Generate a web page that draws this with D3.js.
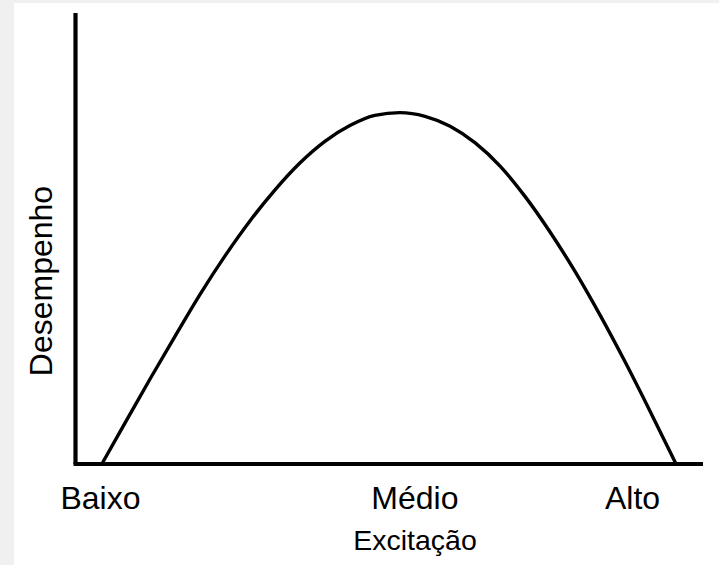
<!DOCTYPE html>
<html lang="pt">
<head>
<meta charset="utf-8">
<script src="https://cdn.jsdelivr.net/npm/d3@7"></script>
<style>
    body { margin: 0; background: #f0f0f0; }
    #chart { width: 719px; height: 565px; }
    text { font-family: "Liberation Sans", Arial, sans-serif; fill: #000; }
</style>
</head>
<body>
<div id="chart"></div>
<script>

// excitação (0-100) vs desempenho (0-100)
let arousal     = [4.2, 7.9, 11.9, 15.9, 19.8, 23.8, 27.8, 31.8, 35.8, 39.8, 43.8, 47.7,
                   51.7, 55.7, 59.7, 63.7, 67.7, 71.6, 75.6, 79.6, 83.6, 87.6, 91.6, 95.7];
let performance = [0, 9.1, 18.9, 28.4, 37.5, 46.1, 53.9, 60.8, 66.8, 71.6, 75.1, 77.3,
                   77.9, 77.1, 74.9, 71.2, 66.0, 59.4, 51.5, 42.7, 33.0, 22.6, 11.6, 0];

let tickPositions = [3.9, 54.0, 88.7];
let tickLabels = ["Baixo", "Médio", "Alto"];

let xTitle = "Excitação";
let yTitle = "Desempenho";


class CurveVis {

    constructor(parentElement) {
        this.parentElement = parentElement;
        this.data = arousal.map((d, i) => ({x: d, y: performance[i]}));

        this.initVis()
    }

    initVis() {
        let vis = this;

        vis.width = 719;
        vis.height = 565;

        vis.svg = d3.select("#" + vis.parentElement).append("svg")
            .attr("width", vis.width)
            .attr("height", vis.height);

        // white sheet on the grey page
        vis.svg.append("rect")
            .attr("x", 14)
            .attr("y", 3)
            .attr("width", vis.width - 14)
            .attr("height", vis.height - 3)
            .attr("fill", "#fff");

        vis.x = d3.scaleLinear()
            .domain([0, 100])
            .range([75.5, 703]);

        vis.y = d3.scaleLinear()
            .domain([0, 100])
            .range([464, 13]);

        // tick labels only, no tick marks
        vis.xAxis = d3.axisBottom(vis.x)
            .tickValues(tickPositions)
            .tickFormat((d, i) => tickLabels[i])
            .tickSize(0)
            .tickPadding(22);

        vis.svg.append("g")
            .attr("class", "x-axis")
            .attr("transform", `translate(0, ${vis.y(0)})`)
            .call(vis.xAxis)
            .call(g => g.select(".domain").remove())
            .selectAll("text")
            .style("font-size", "32px")
            .style("font-family", "'Liberation Sans', Arial, sans-serif")
            .attr("fill", "#000");

        // axis lines
        vis.svg.append("line")
            .attr("x1", vis.x(0))
            .attr("x2", vis.x(0))
            .attr("y1", vis.y(100))
            .attr("y2", vis.y(0))
            .attr("stroke", "#000")
            .attr("stroke-width", 4.2);

        vis.svg.append("line")
            .attr("x1", vis.x(0) - 2)
            .attr("x2", vis.x(100))
            .attr("y1", vis.y(0))
            .attr("y2", vis.y(0))
            .attr("stroke", "#000")
            .attr("stroke-width", 4.2);

        // titles
        vis.svg.append("text")
            .attr("x", 415)
            .attr("y", 550)
            .attr("text-anchor", "middle")
            .style("font-size", "28.5px")
            .text(xTitle);

        vis.svg.append("text")
            .attr("transform", "translate(52, 281) rotate(-90)")
            .attr("text-anchor", "middle")
            .style("font-size", "32px")
            .text(yTitle);

        vis.line = d3.line()
            .x(d => vis.x(d.x))
            .y(d => vis.y(d.y))
            .curve(d3.curveMonotoneX);

        vis.wrangleData()
    }

    wrangleData() {
        let vis = this;

        vis.updateVis()
    }

    updateVis() {
        let vis = this;

        vis.svg.append("path")
            .datum(vis.data)
            .attr("class", "curve")
            .attr("d", vis.line)
            .attr("fill", "none")
            .attr("stroke", "#000")
            .attr("stroke-width", 3.4)
            .attr("stroke-linejoin", "round");
    }
}

new CurveVis("chart");
</script>
</body>
</html>
